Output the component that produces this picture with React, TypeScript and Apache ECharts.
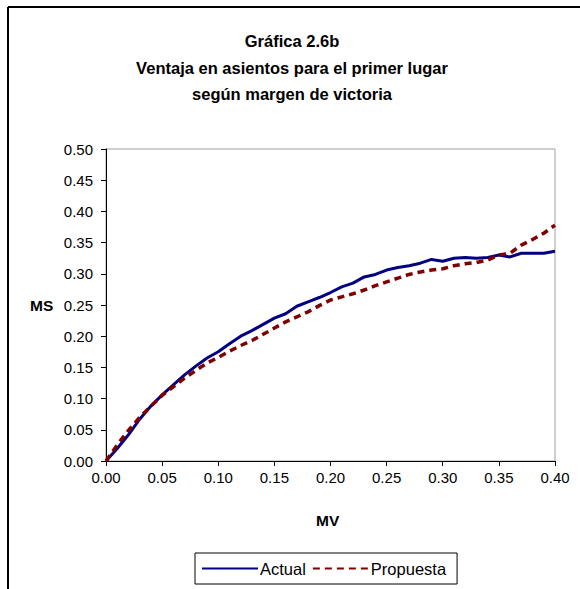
import React, { useEffect, useRef } from "react";
import * as echarts from "echarts";

const titleLines = ["Gráfica 2.6b", "Ventaja en asientos para el primer lugar", "según margen de victoria"];
const xName = "MV";
const yName = "MS";
const seriesNames = ["Actual", "Propuesta"];

const mv = [
  0.0, 0.01, 0.02, 0.03, 0.04, 0.05, 0.06, 0.07, 0.08, 0.09,
  0.1, 0.11, 0.12, 0.13, 0.14, 0.15, 0.16, 0.17, 0.18, 0.19,
  0.2, 0.21, 0.22, 0.23, 0.24, 0.25, 0.26, 0.27, 0.28, 0.29,
  0.3, 0.31, 0.32, 0.33, 0.34, 0.35, 0.36, 0.37, 0.38, 0.39, 0.4,
];

const actual = [
  0.0, 0.02, 0.042, 0.067, 0.088, 0.106, 0.122, 0.138, 0.152, 0.165,
  0.175, 0.188, 0.2, 0.209, 0.219, 0.229, 0.236, 0.248, 0.255, 0.262,
  0.27, 0.279, 0.285, 0.295, 0.299, 0.306, 0.31, 0.313, 0.317, 0.323,
  0.32, 0.325, 0.326, 0.325, 0.326, 0.33, 0.327, 0.333, 0.333, 0.333, 0.336,
];

const propuesta = [
  0.0, 0.026, 0.049, 0.07, 0.088, 0.105, 0.119, 0.133, 0.145, 0.157,
  0.166, 0.176, 0.185, 0.193, 0.203, 0.213, 0.223, 0.231, 0.239, 0.249,
  0.258, 0.263, 0.268, 0.274, 0.281, 0.287, 0.293, 0.299, 0.303, 0.306,
  0.308, 0.313, 0.316, 0.318, 0.322, 0.33, 0.333, 0.346, 0.355, 0.365, 0.378,
];

const FONT = "'Liberation Sans', Arial, sans-serif";

export default function App() {
  const ref = useRef<HTMLDivElement>(null);

  useEffect(() => {
    if (!ref.current) return;
    const chart = echarts.init(ref.current, null, { renderer: "svg" });
    const option: any = {
      animation: false,
      backgroundColor: "#ffffff",
      textStyle: { fontFamily: FONT, color: "#000" },
      title: {
        text: titleLines.join("\n"),
        left: 287,
        textAlign: "center",
        top: 23,
        textStyle: {
          fontFamily: FONT,
          fontSize: 16.5,
          fontWeight: "bold",
          color: "#000",
          lineHeight: 26.5,
        },
      },
      grid: {
        left: 106,
        top: 149,
        right: 25,
        bottom: 128,
        show: true,
        borderColor: "#a0a0a0",
        borderWidth: 1,
        backgroundColor: "#ffffff",
      },
      legend: {
        left: 195,
        top: 553,
        orient: "horizontal",
        itemWidth: 56,
        itemHeight: 2,
        itemGap: 6,
        padding: [7, 11, 7, 6],
        borderColor: "#000",
        borderWidth: 1,
        itemStyle: { opacity: 0 },
        textStyle: { fontFamily: FONT, fontSize: 16.5, color: "#000", padding: [0, 0, 0, -3] },
        data: seriesNames,
      },
      xAxis: {
        type: "value",
        min: 0,
        max: 0.4,
        interval: 0.05,
        axisLine: { show: true, lineStyle: { color: "#000", width: 1 } },
        axisTick: { show: true, length: 5, lineStyle: { color: "#000" } },
        splitLine: { show: false },
        axisLabel: {
          fontFamily: FONT,
          fontSize: 15,
          color: "#000",
          margin: 9,
          formatter: (v: number) => v.toFixed(2),
        },
      },
      yAxis: {
        type: "value",
        min: 0,
        max: 0.5,
        interval: 0.05,
        axisLine: { show: true, lineStyle: { color: "#000", width: 1 } },
        axisTick: { show: true, length: 5, lineStyle: { color: "#000" } },
        splitLine: { show: false },
        axisLabel: {
          fontFamily: FONT,
          fontSize: 15,
          color: "#000",
          margin: 13,
          formatter: (v: number) => v.toFixed(2),
        },
      },
      graphic: [
        {
          type: "line",
          shape: { x1: 8, y1: 7, x2: 580, y2: 7 },
          style: { stroke: "#000", lineWidth: 2 },
        },
        {
          type: "line",
          shape: { x1: 8, y1: 7, x2: 8, y2: 589 },
          style: { stroke: "#000", lineWidth: 2 },
        },
        {
          type: "text",
          left: 30,
          top: 297,
          style: { text: yName, font: `bold 15.5px ${FONT}`, fill: "#000" },
        },
        {
          type: "text",
          left: 316,
          top: 512,
          style: { text: xName, font: `bold 15.5px ${FONT}`, fill: "#000" },
        },
      ],
      series: [
        {
          name: seriesNames[0],
          type: "line",
          data: mv.map((x, i) => [x, actual[i]]),
          symbol: "none",
          smooth: false,
          lineStyle: { color: "#000080", width: 3 },
          itemStyle: { color: "#000080" },
          z: 3,
        },
        {
          name: seriesNames[1],
          type: "line",
          data: mv.map((x, i) => [x, propuesta[i]]),
          symbol: "none",
          smooth: false,
          lineStyle: { color: "#800000", width: 3.5, type: [7, 5] },
          itemStyle: { color: "#800000" },
          z: 4,
        },
      ],
    };
    chart.setOption(option);
    return () => chart.dispose();
  }, []);

  return (
    <div
      ref={ref}
      style={{ position: "absolute", left: 0, top: 0, width: 580, height: 589 }}
    />
  );
}
